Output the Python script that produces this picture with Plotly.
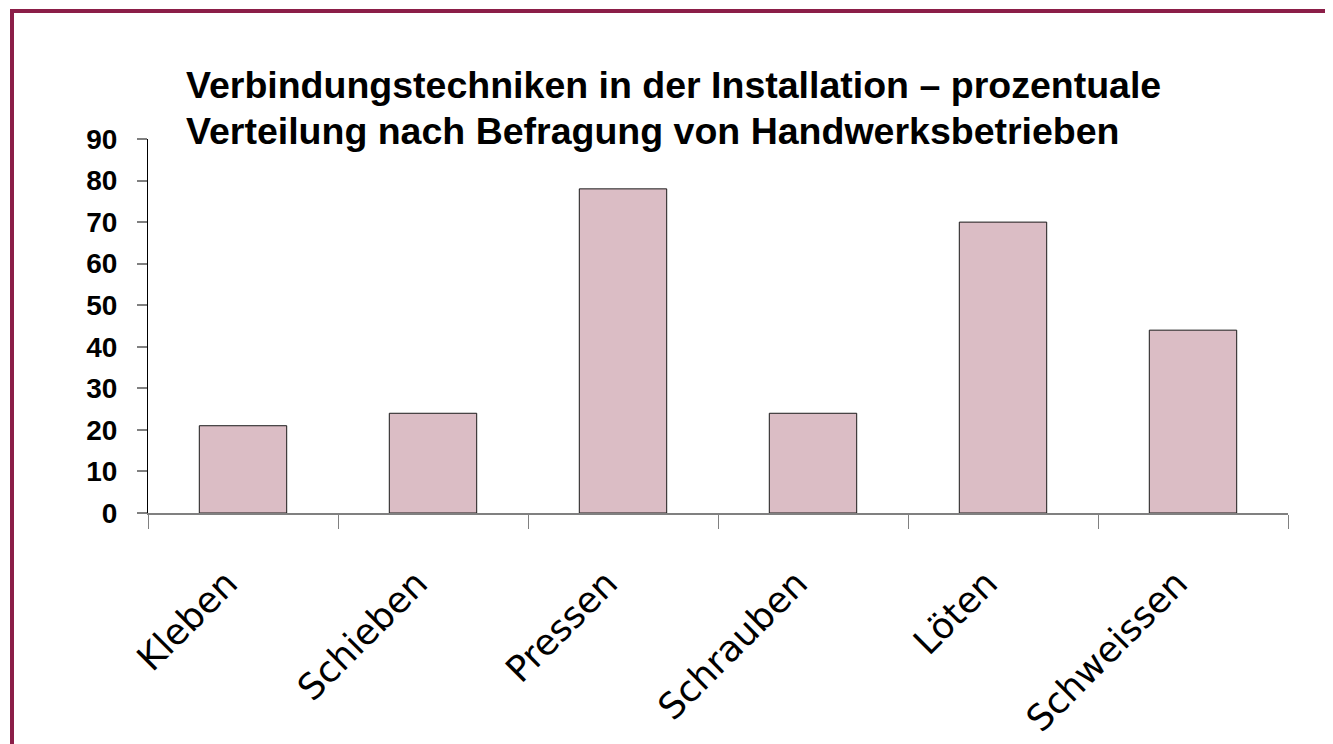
import plotly.graph_objects as go

categories = ["Kleben", "Schieben", "Pressen", "Schrauben", "Löten", "Schweissen"]
values = [21, 24, 78, 24, 70, 44]
y_ticks = [0, 10, 20, 30, 40, 50, 60, 70, 80, 90]
title_lines = ["Verbindungstechniken in der Installation – prozentuale",
               "Verteilung nach Befragung von Handwerksbetrieben"]

# page body has an 8px margin, so the figure is drawn at (8, 8)
W, H = 1325, 736
L, R, T, B = 140, 45, 131, 231
pw, ph = W - L - R, H - T - B

SANS = "Liberation Sans, Arial, sans-serif"
MAROON = "#8B1E48"

fig = go.Figure(go.Bar(
    x=categories, y=values, width=0.46,
    marker=dict(color="#DBBDC5", line=dict(color="#1a1a1a", width=1)),
))

def px_x(p):
    return (p - L) / pw

def px_y(p):
    return (H - B - p) / ph

shapes = [
    dict(type="rect", xref="paper", yref="paper", layer="above",
         x0=px_x(2), x1=px_x(W + 5), y0=px_y(5), y1=px_y(1),
         fillcolor=MAROON, line=dict(width=0)),
    dict(type="rect", xref="paper", yref="paper", layer="above",
         x0=px_x(2), x1=px_x(6), y0=px_y(H + 5), y1=px_y(1),
         fillcolor=MAROON, line=dict(width=0)),
]

title_font = dict(family=SANS, size=37.5, color="black", weight="bold")
annotations = [
    dict(text=title_lines[0], xref="paper", yref="paper", x=px_x(176), y=px_y(91 + 9),
         xanchor="left", yanchor="bottom", showarrow=False, font=title_font),
    dict(text=title_lines[1], xref="paper", yref="paper", x=px_x(176), y=px_y(137 + 9),
         xanchor="left", yanchor="bottom", showarrow=False, font=title_font),
]

fig.update_layout(
    width=W, height=H,
    margin=dict(l=L, r=R, t=T, b=B, pad=0, autoexpand=False),
    paper_bgcolor="white", plot_bgcolor="white",
    showlegend=False,
    shapes=shapes,
    annotations=annotations,
    xaxis=dict(showline=True, linecolor="#808080", linewidth=1.5, automargin=False,
               ticks="outside", tickson="boundaries", ticklen=14, tickcolor="#808080",
               tickwidth=1, tickangle=-45, showgrid=False, zeroline=False,
               ticklabelstandoff=33, ticklabelshift=-16,
               tickfont=dict(family="DejaVu Sans, Verdana, sans-serif", size=36, color="black")),
    yaxis=dict(range=[0, 90], tickvals=y_ticks, showline=True, linecolor="black", linewidth=1,
               automargin=False,
               ticks="outside", ticklen=10, tickcolor="#808080", tickwidth=1.5,
               showgrid=False, zeroline=False, ticklabelstandoff=14,
               tickfont=dict(family=SANS, size=28, color="black", weight="bold")),
)

fig.write_html("out.html")
